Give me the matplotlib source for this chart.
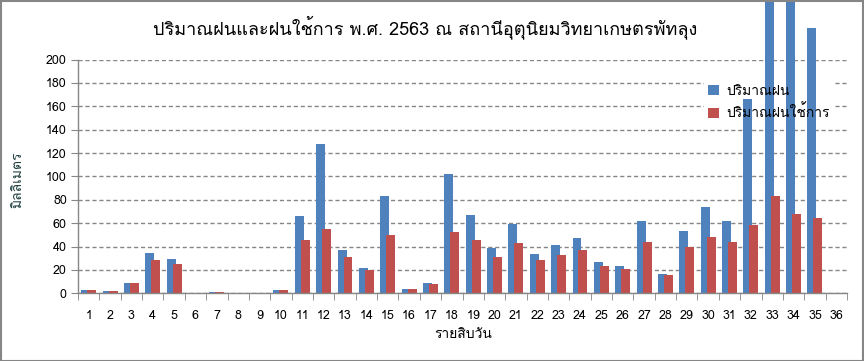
import matplotlib
matplotlib.use('Agg')
import matplotlib.pyplot as plt
import numpy as np
from matplotlib import font_manager
from matplotlib.ft2font import FT2Font
from matplotlib.patches import Rectangle

# ---- data ----
periods = [str(i) for i in range(1, 37)]
rain = [3.1, 2.3, 8.8, 34.8, 29.3, 0, 1.1, 0, 0, 3.1, 66.4, 127.6, 37.0, 21.7,
        83.2, 3.7, 8.8, 102.0, 67.0, 38.7, 59.3, 33.6, 41.3, 47.3, 26.8, 23.4,
        61.8, 16.5, 53.3, 73.8, 61.8, 166.1, 300.0, 280.0, 226.8, np.nan]
effective_rain = [3.1, 2.3, 8.8, 28.8, 25.4, 0, 1.1, 0, 0, 3.1, 45.6, 55.0, 31.1,
                  19.9, 49.9, 3.7, 8.0, 52.4, 45.6, 31.1, 43.0, 28.5, 32.8, 37.0,
                  23.4, 20.8, 43.9, 15.7, 39.6, 48.1, 43.9, 58.4, 83.2, 67.8,
                  64.4, np.nan]
series_names = ['ปริมาณฝน', 'ปริมาณฝนใช้การ']
title = 'ปริมาณฝนและฝนใช้การ พ.ศ. 2563 ณ สถานีอุตุนิยมวิทยาเกษตรพัทลุง'
xlabel = 'รายสิบวัน'
ylabel = 'มิลลิเมตร'
yticks = list(range(0, 201, 20))


def find_thai_font():
    for f in font_manager.fontManager.ttflist:
        try:
            if 0x0E01 in FT2Font(f.fname).get_charmap():
                return f.name
        except Exception:
            pass
    return None


thai = find_thai_font()
fams = ([thai] if thai else []) + ['DejaVu Sans']
plt.rcParams['font.family'] = fams

BLUE = '#4F81BD'
RED = '#C0504D'
GRAY = '#868686'

fig = plt.figure(figsize=(8.64, 3.61), dpi=100)
ax = fig.add_axes([78 / 864, 1 - 293.3 / 361, (847 - 78) / 864, (293.3 - 59.5) / 361])

x = np.arange(len(periods))
w = 0.42
off = 0.14
ax.bar(x - off, rain, width=w, color=BLUE, zorder=2, clip_on=False, label=series_names[0])
ax.bar(x + off, effective_rain, width=w, color=RED, zorder=2.1, clip_on=False, label=series_names[1])

ax.set_xlim(-0.5, len(periods) - 0.5)
ax.set_ylim(0, 200)
ax.set_yticks(yticks)
ax.set_xticks(x)
ax.set_xticklabels(periods)
ax.set_xticks(np.arange(-0.5, len(periods) + 0.5, 1), minor=True)
ax.tick_params(axis='x', which='major', length=0, pad=12, labelsize=9)
ax.tick_params(axis='x', which='minor', length=5, color=GRAY, direction='out')
ax.tick_params(axis='y', length=5, color=GRAY, direction='out', pad=3, labelsize=9)

ax.yaxis.grid(True, color=GRAY, linestyle=(0, (3, 2)), linewidth=1)
ax.set_axisbelow(True)
for s in ['top', 'right']:
    ax.spines[s].set_visible(False)
for s in ['left', 'bottom']:
    ax.spines[s].set_color(GRAY)
    ax.spines[s].set_linewidth(1)

leg_kw = dict(loc='upper left', bbox_to_anchor=(0.805, 0.94), fontsize=10,
              handlelength=0.75, handleheight=0.75, handletextpad=0.55,
              labelspacing=0.5, borderpad=0.3)
# legend background (covers gridlines, under bars)
leg_bg = ax.legend(frameon=True, **leg_kw)
leg_bg.get_frame().set_facecolor('white')
leg_bg.get_frame().set_edgecolor('none')
leg_bg.get_frame().set_alpha(1)
for t in leg_bg.get_texts():
    t.set_alpha(0)
for h in leg_bg.legend_handles:
    h.set_alpha(0)
leg_bg.set_zorder(1.5)
ax.add_artist(leg_bg)
leg = ax.legend(frameon=False, **leg_kw)
leg.set_zorder(5)

fig.text(425 / 864, 1 - 27 / 361, title, ha='center', va='center', fontsize=13)
fig.text(463 / 864, 1 - 335 / 361, xlabel, ha='center', va='center', fontsize=10)
fig.text(18 / 864, 1 - 180 / 361, ylabel, ha='center', va='center', fontsize=10,
         rotation=90, color='#1F3F3F')

fig.patches.append(Rectangle((0.5 / 864, 0.5 / 361), 1 - 1.5 / 864, 1 - 1.5 / 361,
                             transform=fig.transFigure, fill=False,
                             edgecolor=GRAY, linewidth=1.5, zorder=10))

fig.savefig('out.png', dpi=100)
